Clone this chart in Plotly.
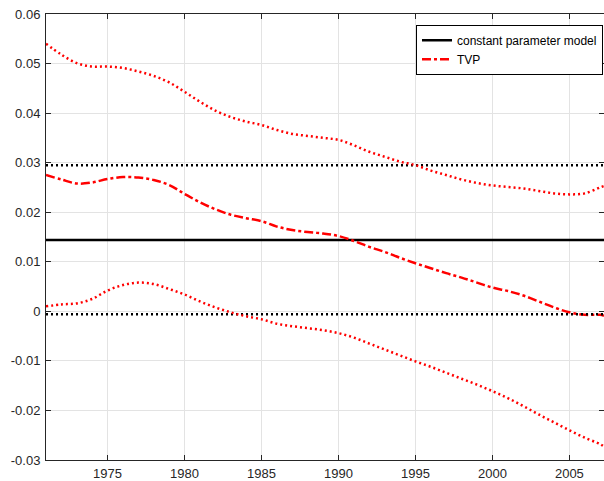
import plotly.graph_objects as go

years = [1971, 1972, 1973, 1974, 1975, 1976, 1977, 1978, 1979, 1980,
         1981, 1982, 1983, 1984, 1985, 1986, 1987, 1988, 1989, 1990,
         1991, 1992, 1993, 1994, 1995, 1996, 1997, 1998, 1999, 2000,
         2001, 2002, 2003, 2004, 2005, 2006, 2007, 2007.25]

tvp_upper = [0.0540, 0.0518, 0.0501, 0.0494, 0.0494, 0.0491, 0.0484, 0.0475, 0.0462, 0.0443,
             0.0423, 0.0405, 0.0392, 0.0383, 0.0376, 0.0366, 0.0358, 0.0354, 0.0350, 0.0346,
             0.0335, 0.0322, 0.0312, 0.0302, 0.0295, 0.0284, 0.0275, 0.0266, 0.0259, 0.0254,
             0.0251, 0.0248, 0.0243, 0.0238, 0.0236, 0.0238, 0.0250, 0.0253]

tvp_mid = [0.0275, 0.0266, 0.0258, 0.0260, 0.0267, 0.0271, 0.0270, 0.0265, 0.0255, 0.0237,
           0.0220, 0.0206, 0.0195, 0.0188, 0.0182, 0.0171, 0.0164, 0.0160, 0.0157, 0.0152,
           0.0142, 0.0130, 0.0120, 0.0108, 0.0097, 0.0087, 0.0077, 0.0068, 0.0058, 0.0048,
           0.0041, 0.0032, 0.0020, 0.0008, -0.0002, -0.0007, -0.0007, -0.0009]

tvp_lower = [0.0010, 0.0014, 0.0016, 0.0025, 0.0042, 0.0053, 0.0058, 0.0055, 0.0045, 0.0034,
             0.0020, 0.0008, -0.0002, -0.0010, -0.0016, -0.0025, -0.0030, -0.0034, -0.0038, -0.0044,
             -0.0053, -0.0065, -0.0077, -0.0089, -0.0101, -0.0112, -0.0124, -0.0136, -0.0148, -0.0161,
             -0.0175, -0.0191, -0.0208, -0.0224, -0.0240, -0.0255, -0.0268, -0.0273]

const_mid = 0.0144
const_upper = 0.0295
const_lower = -0.0006

x_ticks = [1975, 1980, 1985, 1990, 1995, 2000, 2005]
y_ticks = [-0.03, -0.02, -0.01, 0, 0.01, 0.02, 0.03, 0.04, 0.05, 0.06]
y_labels = ["-0.03", "-0.02", "-0.01", "0", "0.01", "0.02", "0.03", "0.04", "0.05", "0.06"]

x_span = [years[0], years[-1]]

FONT = "Liberation Sans, Arial, Helvetica, sans-serif"

fig = go.Figure()

fig.add_trace(go.Scatter(x=x_span, y=[const_mid, const_mid], mode="lines",
                         line=dict(color="black", width=2.5),
                         name="constant parameter model"))
fig.add_trace(go.Scatter(x=years, y=tvp_mid, mode="lines",
                         line=dict(color="red", width=2.5, dash="9px,3px,3px,3px", shape="spline"),
                         name="TVP"))
fig.add_trace(go.Scatter(x=x_span, y=[const_upper, const_upper], mode="lines",
                         line=dict(color="black", width=2.5, dash="2px,3px"), showlegend=False))
fig.add_trace(go.Scatter(x=x_span, y=[const_lower, const_lower], mode="lines",
                         line=dict(color="black", width=2.5, dash="2px,3px"), showlegend=False))
fig.add_trace(go.Scatter(x=years, y=tvp_upper, mode="lines",
                         line=dict(color="red", width=2.5, dash="2px,3px", shape="spline"), showlegend=False))
fig.add_trace(go.Scatter(x=years, y=tvp_lower, mode="lines",
                         line=dict(color="red", width=2.5, dash="2px,3px", shape="spline"), showlegend=False))

axis_common = dict(
    showgrid=True, gridcolor="#e3e3e3", gridwidth=1,
    zeroline=False, showline=True, linecolor="#262626", linewidth=1,
    ticks="inside", ticklen=5, tickcolor="#262626", tickwidth=1,
    tickfont=dict(family=FONT, size=13, color="#262626"),
    mirror="ticks", automargin=False,
)

fig.update_layout(
    width=604, height=481,
    margin=dict(l=46, r=0, t=14, b=21, autoexpand=False),
    paper_bgcolor="white", plot_bgcolor="white",
    xaxis=dict(range=[1971, 2007.25], tickvals=x_ticks, ticklabelstandoff=1, **axis_common),
    yaxis=dict(range=[-0.03, 0.06], tickvals=y_ticks, ticktext=y_labels, ticklabelstandoff=2, **axis_common),
    legend=dict(x=0.9982, y=0.976, xanchor="right", yanchor="top",
                bgcolor="white", bordercolor="black", borderwidth=1,
                font=dict(family=FONT, size=12, color="black"),
                tracegroupgap=0),
    showlegend=True,
)

fig.write_html("out.html")
